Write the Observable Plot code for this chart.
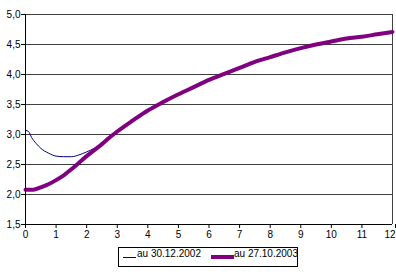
<!DOCTYPE html>
<html>
<head>
<meta charset="utf-8">
<script src="https://cdn.jsdelivr.net/npm/d3@7"></script>
<script src="https://cdn.jsdelivr.net/npm/@observablehq/plot@0.6"></script>
<style>
  html, body { margin: 0; padding: 0; background: #fff; }
  body { width: 396px; height: 274px; overflow: hidden; font-family: "Liberation Sans", Arial, sans-serif; }
  #legend { position: relative; width: 396px; height: 30px; font-size: 10px; color: #000; }
  #legend .box { position: absolute; left: 118px; top: 3px; width: 178px; height: 18px; border: 1px solid #000; box-sizing: content-box; }
  #legend .sw { position: absolute; height: 0; }
  #legend .lb { position: absolute; top: 4px; white-space: nowrap; line-height: 11px; }
</style>
</head>
<body>
<div id="chart"></div>
<div id="legend"></div>
<script>
// Series 1: "au 30.12.2002"
const x2002 = [0, 0.1, 0.2, 0.35, 0.5, 0.75, 1, 1.25, 1.5, 1.75, 2, 2.25, 2.5, 2.75, 3, 3.5, 4, 4.5, 5, 5.5, 6, 6.5, 7, 7.5, 8, 8.5, 9, 9.5, 10, 10.5, 11, 11.5, 12];
const y2002 = [3.07, 3.05, 2.95, 2.85, 2.77, 2.69, 2.64, 2.63, 2.63, 2.66, 2.71, 2.77, 2.85, 2.95, 3.05, 3.23, 3.40, 3.54, 3.67, 3.79, 3.91, 4.01, 4.11, 4.21, 4.29, 4.37, 4.44, 4.50, 4.55, 4.60, 4.63, 4.67, 4.71];
// Series 2: "au 27.10.2003"
const x2003 = [0, 0.25, 0.5, 0.75, 1, 1.25, 1.5, 1.75, 2, 2.25, 2.5, 2.75, 3, 3.5, 4, 4.5, 5, 5.5, 6, 6.5, 7, 7.5, 8, 8.5, 9, 9.5, 10, 10.5, 11, 11.5, 12];
const y2003 = [2.08, 2.08, 2.12, 2.17, 2.24, 2.32, 2.42, 2.53, 2.64, 2.74, 2.84, 2.95, 3.05, 3.23, 3.40, 3.54, 3.67, 3.79, 3.91, 4.01, 4.11, 4.21, 4.29, 4.37, 4.44, 4.50, 4.55, 4.60, 4.63, 4.67, 4.71];
const seriesNames = ["au 30.12.2002", "au 27.10.2003"];
const seriesColors = ["#000080", "#800080"];
const xTicks = [0, 1, 2, 3, 4, 5, 6, 7, 8, 9, 10, 11, 12];
const yTicks = [1.5, 2.0, 2.5, 3.0, 3.5, 4.0, 4.5, 5.0];

const d2002 = x2002.map((x, i) => ({x, y: y2002[i]}));
const d2003 = x2003.map((x, i) => ({x, y: y2003[i]}));
const fmt = d => d.toFixed(1).replace(".", ",");
const lastX = xTicks[xTicks.length - 1];

const chart = Plot.plot({
  width: 396,
  height: 244,
  marginLeft: 25,
  marginRight: 4,
  marginTop: 14,
  marginBottom: 20,
  style: {fontFamily: "'Liberation Sans', Arial, sans-serif", fontSize: "10px", background: "#fff", color: "#000"},
  x: {domain: [0, 12], ticks: xTicks, label: null},
  y: {domain: [1.5, 5.0], ticks: yTicks, label: null},
  marks: [
    Plot.gridY(yTicks.filter(d => d > 1.5), {stroke: "#404040", strokeOpacity: 1, strokeWidth: 1}),
    Plot.ruleX([12], {y1: 1.5, y2: 5.0, stroke: "#404040", strokeWidth: 1}),
    Plot.lineY(d2002, {x: "x", y: "y", stroke: seriesColors[0], strokeWidth: 1, curve: "monotone-x"}),
    Plot.lineY(d2003, {x: "x", y: "y", stroke: seriesColors[1], strokeWidth: 4, curve: "monotone-x"}),
    Plot.axisX(xTicks.filter(d => d !== lastX), {tickSize: 4, tickPadding: 2, tickFormat: d => String(d), stroke: "#000", fill: "#000", label: null}),
    Plot.axisX([lastX], {tickSize: 4, tickPadding: 2, tickFormat: d => String(d), stroke: "#000", fill: "#000", textAnchor: "end", dx: 3, label: null}),
    Plot.axisY(yTicks, {tickSize: 4, tickPadding: 1, tickFormat: fmt, stroke: "#000", fill: "#000", label: null}),
    Plot.ruleY([1.5], {stroke: "#000"}),
    Plot.ruleX([0], {stroke: "#000"})
  ]
});
document.getElementById("chart").appendChild(chart);

// Legend
const leg = document.getElementById("legend");
const box = document.createElement("div");
box.className = "box";
leg.appendChild(box);
const swX = [123, 211];
const swW = [13, 23];
const swH = [1, 4];
const lbX = [137, 234];
seriesNames.forEach((name, i) => {
  const sw = document.createElement("div");
  sw.className = "sw";
  sw.style.left = swX[i] + "px";
  sw.style.width = swW[i] + "px";
  sw.style.top = (13 - Math.floor(swH[i] / 2)) + "px";
  sw.style.borderTop = swH[i] + "px solid " + seriesColors[i];
  leg.appendChild(sw);
  const lb = document.createElement("div");
  lb.className = "lb";
  lb.style.left = lbX[i] + "px";
  lb.textContent = name;
  leg.appendChild(lb);
});
</script>
</body>
</html>
